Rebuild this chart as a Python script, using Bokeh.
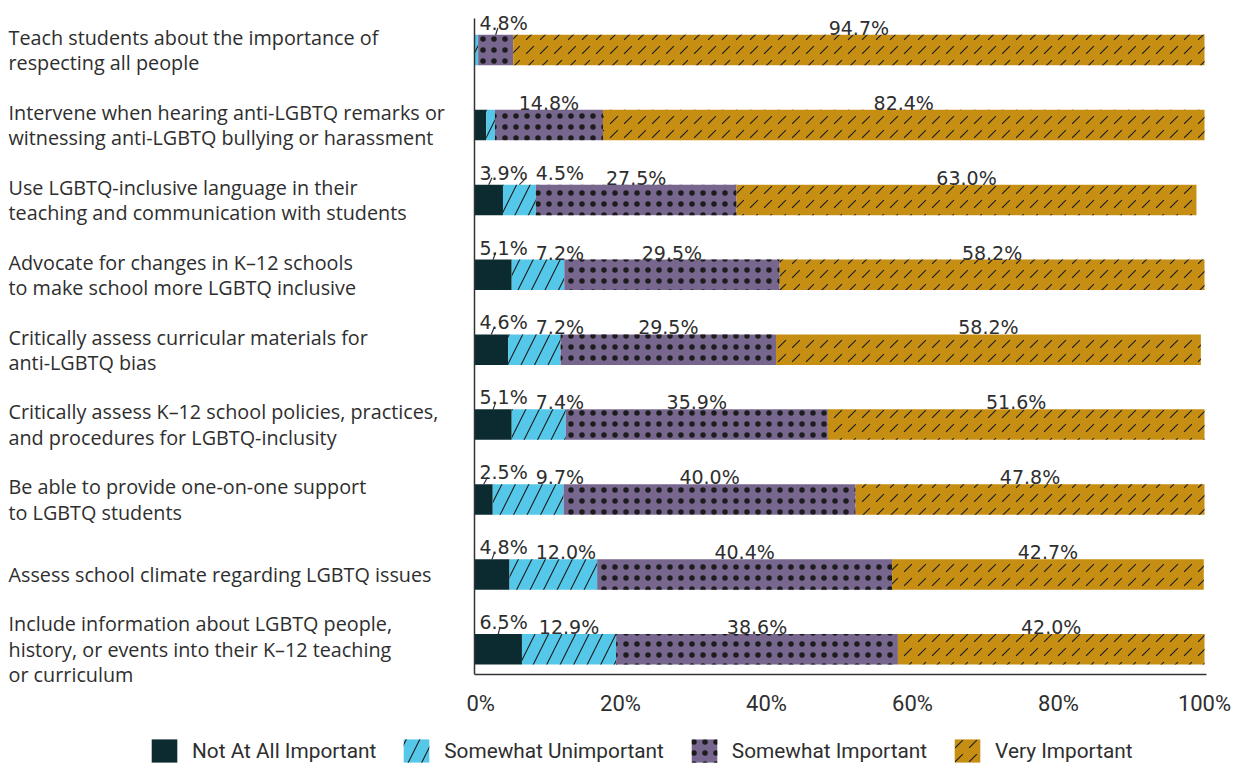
from bokeh.plotting import figure
from bokeh.layouts import column, row
from bokeh.models import ColumnDataSource, Range1d, FixedTicker, Legend, LegendItem
from bokeh.embed import file_html
from bokeh.resources import INLINE
from bokeh.core.properties import value

# ---------------- data ----------------
categories = [
    "Teach students about the importance of\nrespecting all people",
    "Intervene when hearing anti-LGBTQ remarks or\nwitnessing anti-LGBTQ bullying or harassment",
    "Use LGBTQ-inclusive language in their\nteaching and communication with students",
    "Advocate for changes in K\u201312 schools\nto make school more LGBTQ inclusive",
    "Critically assess curricular materials for\nanti-LGBTQ bias",
    "Critically assess K\u201312 school policies, practices,\nand procedures for LGBTQ-inclusity",
    "Be able to provide one-on-one support\nto LGBTQ students",
    "Assess school climate regarding LGBTQ issues",
    "Include information about LGBTQ people,\nhistory, or events into their K\u201312 teaching\nor curriculum",
]
not_at_all = [0.0, 1.6, 3.9, 5.1, 4.6, 5.1, 2.5, 4.8, 6.5]
somewhat_unimportant = [0.5, 1.2, 4.5, 7.2, 7.2, 7.4, 9.7, 12.0, 12.9]
somewhat_important = [4.8, 14.8, 27.5, 29.5, 29.5, 35.9, 40.0, 40.4, 38.6]
very_important = [94.7, 82.4, 63.0, 58.2, 58.2, 51.6, 47.8, 42.7, 42.0]
series_names = ["Not At All Important", "Somewhat Unimportant", "Somewhat Important", "Very Important"]
tick_values = [0, 20, 40, 60, 80, 100]
tick_labels = ["0%", "20%", "40%", "60%", "80%", "100%"]

# ---------------- style ----------------
colors = ["#0b2b31", "#55c8e9", "#77678e", "#c68e12"]
hatches = ["blank", "/", ".", ","]
hatch_scales = [12, 27, 11, 14]
hatch_weights = [1, 1.1, 3.4, 1.1]
TEXT = "#2e2e2e"
W = 1242
W_LEFT = 466           # width of the category-label strip
W_MAIN = W - W_LEFT
H_MAIN = 736
H_LEG = 29
ZERO_OFF = 8           # pixel offset of 0 % inside the main figure
AXIS_Y0 = 674          # pixel position of x axis line (frame bottom)
PX = 7.3               # pixels per percent
ROW_PX = 74.9          # pixels per row
n = len(categories)
ys = [n - i for i in range(n)]
x_start = -ZERO_OFF / PX
x_end = x_start + W_MAIN / PX
y_start = 1 - 25.2 / ROW_PX
y_end = y_start + AXIS_Y0 / ROW_PX
BAR_H = 30.5 / ROW_PX
VAL_FS = 19.0

# ---------------- main chart ----------------
p = figure(width=W_MAIN, height=H_MAIN, x_range=Range1d(x_start, x_end), y_range=Range1d(y_start, y_end),
           output_backend="svg", toolbar_location=None, y_axis_location=None,
           min_border_left=0, min_border_right=0, min_border_top=0,
           min_border_bottom=H_MAIN - AXIS_Y0)
p.outline_line_color = None
p.grid.visible = False
p.background_fill_color = "white"

series = [not_at_all, somewhat_unimportant, somewhat_important, very_important]
lefts = [0.0] * n
renderers = []
row_segs = [[] for _ in range(n)]
for k, vals in enumerate(series):
    rights = [l + v for l, v in zip(lefts, vals)]
    src = ColumnDataSource(dict(y=ys, left=lefts, right=rights))
    r = p.hbar(y="y", left="left", right="right", height=BAR_H, source=src,
               fill_color=colors[k], line_color=None,
               hatch_pattern=hatches[k], hatch_color="#1c1c1c",
               hatch_scale=hatch_scales[k], hatch_weight=hatch_weights[k])
    renderers.append(r)
    for i in range(n):
        row_segs[i].append((lefts[i], vals[i]))
    lefts = rights

# y axis line (drawn at 0 %)
p.segment(x0=[0], y0=[y_start], x1=[0], y1=[y_end - 18.0 / ROW_PX], line_color="#333333", line_width=1.5)

# value labels with simple collision avoidance and leader lines
CW = {'.': 0.318, '%': 0.95}
def est_w(s):
    return sum(CW.get(c, 0.636) for c in s) * VAL_FS

lx, ly, lt = [], [], []
x0s, y0s, x1s, y1s = [], [], [], []
for i in range(n):
    min_left = 5.0 / PX
    bar_top = ys[i] + BAR_H / 2
    for (l, v) in row_segs[i]:
        if v < 2.0:
            continue
        txt = f"{v:.1f}%"
        w = est_w(txt) / PX
        c = l + v / 2
        cx = max(c, min_left + w / 2)
        lead = v * PX < est_w(txt)
        base = bar_top + (12.0 if lead else 7.0) / ROW_PX
        lx.append(cx); ly.append(base); lt.append(txt)
        if lead:
            x0s.append(c); y0s.append(bar_top)
            x1s.append(c + 0.15 * (cx - c) + 1.0 / PX); y1s.append(bar_top + 7.0 / ROW_PX)
        min_left = cx + w / 2 + 8.0 / PX

p.text(x="x", y="y", text="t", source=ColumnDataSource(dict(x=lx, y=ly, t=lt)),
       text_font=value("DejaVu Sans"), text_font_size=f"{VAL_FS}px", text_align="center",
       text_baseline="alphabetic", text_color=TEXT)
p.segment(x0="x0", y0="y0", x1="x1", y1="y1",
          source=ColumnDataSource(dict(x0=x0s, y0=y0s, x1=x1s, y1=y1s)),
          line_color=TEXT, line_width=1.2)

xa = p.xaxis[0]
xa.ticker = FixedTicker(ticks=tick_values)
xa.major_label_overrides = {t: s for t, s in zip(tick_values, tick_labels)}
xa.major_tick_line_color = None
xa.minor_tick_line_color = None
xa.axis_line_color = "#333333"
xa.axis_line_width = 1.5
xa.major_label_text_font = "Roboto"
xa.major_label_text_font_size = "22px"
xa.major_label_text_color = TEXT
xa.major_label_standoff = 10
xa.bounds = (0, 100.3)

# ---------------- category labels strip (right-side axis of a thin plot) ----------------
left = figure(width=W_LEFT, height=H_MAIN, x_range=Range1d(0, 1), y_range=p.y_range,
              output_backend="svg", toolbar_location=None, x_axis_location=None, y_axis_location="right",
              min_border_left=0, min_border_right=W_LEFT - 1, min_border_top=0,
              min_border_bottom=H_MAIN - AXIS_Y0)
left.outline_line_color = None
left.grid.visible = False
ca = left.yaxis[0]
ca.ticker = FixedTicker(ticks=ys)
ca.major_label_overrides = {y: c for y, c in zip(ys, categories)}
ca.major_tick_line_color = None
ca.minor_tick_line_color = None
ca.axis_line_color = None
ca.major_label_standoff = 1
ca.major_label_text_font = "Open Sans"
ca.major_label_text_font_size = "19.8px"
ca.major_label_text_color = TEXT
ca.major_label_text_line_height = 0.94

# ---------------- legend strip ----------------
lg = figure(width=W, height=H_LEG, x_range=Range1d(0, 1), y_range=Range1d(0, 1),
            output_backend="svg", toolbar_location=None, x_axis_location=None, y_axis_location=None,
            min_border_left=0, min_border_right=0, min_border_top=0, min_border_bottom=0)
lg.outline_line_color = None
lg.grid.visible = False
leg_r = []
for k in range(4):
    leg_r.append(lg.hbar(y=[-5], left=[0], right=[1], height=1, fill_color=colors[k], line_color=None,
                         hatch_pattern=hatches[k], hatch_color="#1c1c1c",
                         hatch_scale=hatch_scales[k], hatch_weight=hatch_weights[k]))
legend = Legend(items=[LegendItem(label=nm, renderers=[r]) for nm, r in zip(series_names, leg_r)],
                orientation="horizontal", location=(148, 0),
                glyph_width=32, glyph_height=29, label_standoff=12, spacing=24,
                padding=0, margin=0, border_line_color=None, background_fill_alpha=0,
                label_text_font="Roboto", label_text_font_size="20.8px", label_text_color=TEXT)
lg.add_layout(legend, "center")

layout = column(row(left, p, spacing=0), lg, spacing=0)
open("out.html", "w").write(file_html(layout, INLINE))
